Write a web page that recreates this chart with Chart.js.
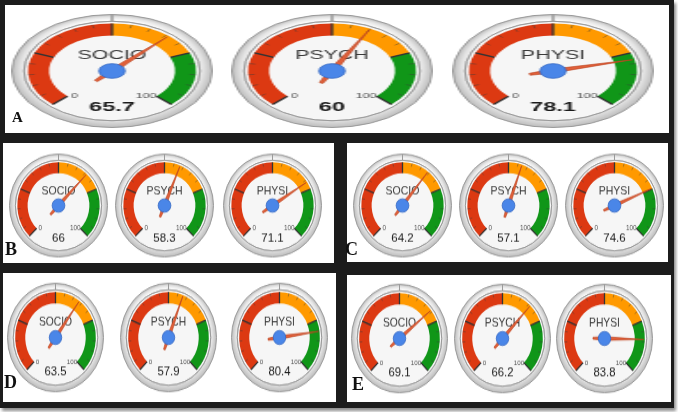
<!DOCTYPE html>
<html>
<head>
<meta charset="utf-8">
<script src="https://cdn.jsdelivr.net/npm/chart.js@4.4.0/dist/chart.umd.min.js"></script>
<style>
    html, body { margin: 0; padding: 0; background: #fff; }
    #frame {
        position: absolute; left: 0; top: 0; width: 674px; height: 408px;
        background: #1c1c1c; box-shadow: 2px 3px 3px rgba(0, 0, 0, 0.45);
    }
    .panel { position: absolute; background: #fff; }
    .letter {
        position: absolute; font-family: 'Liberation Serif', 'Times New Roman', serif;
        font-weight: bold; color: #111; line-height: 1;
    }
    .gauge { position: absolute; transform-origin: 50% 50%; }
</style>
</head>
<body>
<div id="frame"></div>
<script>
// gauge data
const categories = ['SOCIO', 'PSYCH', 'PHYSI'];
const panelNames = ['A', 'B', 'C', 'D', 'E'];
const scoresA = [65.7, 60, 78.1];
const scoresB = [66, 58.3, 71.1];
const scoresC = [64.2, 57.1, 74.6];
const scoresD = [63.5, 57.9, 80.4];
const scoresE = [69.1, 66.2, 83.8];
const bandLimits = [0, 50, 75, 100];          // red / orange / green
const bandColors = ['#dc3912', '#ff9900', '#109618'];
const tickLabels = ['0', '100'];
const majorStep = 25;
const minorStep = 5;

const panelScores = [scoresA, scoresB, scoresC, scoresD, scoresE];
const bandSizes = bandLimits.slice(1).map((v, i) => v - bandLimits[i]);

// page layout (rect: left, top, width, height)
const layout = [
    { rect: [5, 5, 664, 128], letter: [12, 110, 15], centers: [[112, 71], [332, 71], [553, 71]], size: 114, sx: 1.77, sy: 1, bold: true },
    { rect: [3, 143, 331, 120], letter: [5, 240, 18], centers: [[58, 205], [164, 205], [272, 205]], size: 99, sx: 1, sy: 1.05 },
    { rect: [347, 143, 321, 119], letter: [345, 240, 18], centers: [[402, 205], [508, 205], [614, 205]], size: 99, sx: 1, sy: 1.05 },
    { rect: [3, 273, 333, 129], letter: [4, 373, 18], centers: [[55, 337], [168, 337], [279, 337]], size: 97, sx: 1, sy: 1.13 },
    { rect: [347, 275, 324, 127], letter: [352, 375, 18], centers: [[399, 338], [502, 338], [604, 338]], size: 97, sx: 1, sy: 1.13 }
];

const frame = document.getElementById('frame');

const gaugePlugin = {
    id: 'gauge',
    beforeDatasetsDraw(chart) {
        const rim = chart.getDatasetMeta(0).data[0];
        if (!rim) return;
        const ctx = chart.ctx;
        const { x, y } = rim;
        const R = rim.outerRadius;
        ctx.save();
        // bezel
        const g = ctx.createRadialGradient(x, y - R * 0.1, R * 0.8, x, y, R);
        g.addColorStop(0, '#fbfbfb');
        g.addColorStop(0.55, '#e4e4e4');
        g.addColorStop(1, '#bdbdbd');
        ctx.beginPath();
        ctx.arc(x, y, R, 0, Math.PI * 2);
        ctx.fillStyle = g;
        ctx.fill();
        // face
        ctx.beginPath();
        ctx.arc(x, y, R * 0.88, 0, Math.PI * 2);
        ctx.fillStyle = '#f6f6f6';
        ctx.fill();
        ctx.lineWidth = 0.8;
        ctx.strokeStyle = '#b0b0b0';
        ctx.stroke();
        ctx.restore();
    },
    afterDatasetsDraw(chart, args, opts) {
        const rim = chart.getDatasetMeta(0).data[0];
        const arcs = chart.getDatasetMeta(2).data;
        if (!rim || !arcs.length) return;
        const ctx = chart.ctx;
        const { x, y } = rim;
        const R = rim.outerRadius;
        const start = arcs[0].startAngle;
        const end = arcs[arcs.length - 1].endAngle;
        const ro = arcs[0].outerRadius;
        const ri = arcs[0].innerRadius;
        const lo = bandLimits[0], hi = bandLimits[bandLimits.length - 1];
        const toAngle = v => start + (end - start) * (v - lo) / (hi - lo);
        const family = '"Liberation Sans", Arial, sans-serif';

        ctx.save();
        // ticks
        for (let v = lo; v <= hi; v += minorStep) {
            const a = toAngle(v);
            const major = v % majorStep === 0;
            const r0 = major ? ri : ro - (ro - ri) * 0.3;
            ctx.beginPath();
            ctx.moveTo(x + Math.cos(a) * r0, y + Math.sin(a) * r0);
            ctx.lineTo(x + Math.cos(a) * ro, y + Math.sin(a) * ro);
            ctx.lineWidth = major ? 1.3 : 0.8;
            ctx.strokeStyle = major ? '#333' : 'rgba(60,60,60,0.55)';
            ctx.stroke();
        }

        // texts
        ctx.textBaseline = 'middle';
        ctx.textAlign = 'center';
        ctx.fillStyle = '#3a3a3a';
        ctx.font = (R * 0.215).toFixed(1) + 'px ' + family;
        ctx.fillText(opts.label, x, y - R * 0.28);
        ctx.fillStyle = '#1a1a1a';
        ctx.font = (opts.bold ? 'bold ' : '') + (R * 0.235).toFixed(1) + 'px ' + family;
        ctx.fillText(String(opts.value), x, y + R * 0.64);
        ctx.fillStyle = '#555';
        ctx.font = (R * 0.13).toFixed(1) + 'px ' + family;
        ctx.textAlign = 'left';
        ctx.fillText(tickLabels[0], x - R * 0.41, y + R * 0.45);
        ctx.textAlign = 'right';
        ctx.fillText(tickLabels[1], x + R * 0.45, y + R * 0.45);

        // needle
        const a = toAngle(opts.value);
        const c = Math.cos(a), s = Math.sin(a);
        const px = -s, py = c;
        const tip = R * 0.82, tail = R * 0.24, hw = R * 0.035, tw = R * 0.018;
        ctx.beginPath();
        ctx.moveTo(x + c * tip, y + s * tip);
        ctx.lineTo(x + px * hw, y + py * hw);
        ctx.lineTo(x - c * tail + px * tw, y - s * tail + py * tw);
        ctx.lineTo(x - c * tail - px * tw, y - s * tail - py * tw);
        ctx.lineTo(x - px * hw, y - py * hw);
        ctx.closePath();
        ctx.fillStyle = '#e0603a';
        ctx.fill();
        ctx.lineWidth = 0.6;
        ctx.strokeStyle = '#b9421f';
        ctx.stroke();

        // hub
        ctx.beginPath();
        ctx.arc(x, y, R * 0.13, 0, Math.PI * 2);
        ctx.fillStyle = '#4a86e8';
        ctx.fill();
        ctx.lineWidth = 0.8;
        ctx.strokeStyle = '#3568c4';
        ctx.stroke();
        ctx.restore();
    }
};

layout.forEach((p, pi) => {
    const panel = document.createElement('div');
    panel.className = 'panel';
    panel.style.left = p.rect[0] + 'px';
    panel.style.top = p.rect[1] + 'px';
    panel.style.width = p.rect[2] + 'px';
    panel.style.height = p.rect[3] + 'px';
    frame.appendChild(panel);

    categories.forEach((cat, gi) => {
        const [cx, cy] = p.centers[gi];
        const canvas = document.createElement('canvas');
        canvas.className = 'gauge';
        canvas.width = p.size;
        canvas.height = p.size;
        canvas.style.width = p.size + 'px';
        canvas.style.height = p.size + 'px';
        canvas.style.left = (cx - p.size / 2) + 'px';
        canvas.style.top = (cy - p.size / 2) + 'px';
        canvas.style.transform = 'scale(' + p.sx + ',' + p.sy + ')';
        frame.appendChild(canvas);

        new Chart(canvas, {
            type: 'doughnut',
            data: {
                labels: ['low', 'mid', 'high'],
                datasets: [
                    { data: [1], backgroundColor: 'rgba(0,0,0,0)', borderColor: '#9a9a9a', borderWidth: 1, weight: 12 },
                    { data: [1], backgroundColor: 'rgba(0,0,0,0)', borderWidth: 0, weight: 4 },
                    {
                        data: bandSizes,
                        backgroundColor: bandColors,
                        borderWidth: 0,
                        weight: 21,
                        circumference: 270,
                        rotation: -135
                    }
                ]
            },
            options: {
                responsive: false,
                animation: false,
                events: [],
                cutout: '63%',
                layout: { padding: 0 },
                plugins: {
                    legend: { display: false },
                    tooltip: { enabled: false },
                    gauge: { value: panelScores[pi][gi], label: cat, bold: !!p.bold }
                }
            },
            plugins: [gaugePlugin]
        });
    });

    const letter = document.createElement('div');
    letter.className = 'letter';
    letter.textContent = panelNames[pi];
    letter.style.left = p.letter[0] + 'px';
    letter.style.top = p.letter[1] + 'px';
    letter.style.fontSize = p.letter[2] + 'px';
    frame.appendChild(letter);
});
</script>
</body>
</html>
